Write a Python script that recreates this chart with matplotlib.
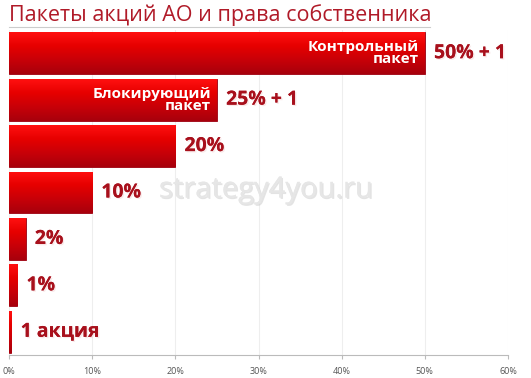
import matplotlib
matplotlib.use("Agg")
import matplotlib.pyplot as plt
import numpy as np
from matplotlib.colors import LinearSegmentedColormap
import matplotlib.patheffects as pe

plt.rcParams['font.family'] = ['Open Sans', 'DejaVu Sans']

categories = ["Контрольный пакет", "Блокирующий пакет", "20%", "10%", "2%", "1%", "1 акция"]
values = [50, 25, 20, 10, 2, 1, 0.3]
value_labels = ["50% + 1", "25% + 1", "20%", "10%", "2%", "1%", "1 акция"]
inner_labels = ["Контрольный\nпакет", "Блокирующий\nпакет", "", "", "", "", ""]
xticks = [0, 10, 20, 30, 40, 50, 60]
xticklabels = ["0%", "10%", "20%", "30%", "40%", "50%", "60%"]
title = "Пакеты акций АО и права собственника"

fig = plt.figure(figsize=(5.31, 3.78), dpi=100)
ax = fig.add_axes([9/531, 1 - 355/378, 499/531, 325/378])

n = len(values)
ypos = np.arange(n)
bh = 0.9
cmap = LinearSegmentedColormap.from_list("g", ["#ff1010", "#e60000", "#c80008", "#a8000c"])
grad = np.linspace(0, 1, 64).reshape(-1, 1)

bars = ax.barh(ypos, values, height=bh, color="#d40008", edgecolor="#9a0010",
               linewidth=0.6, zorder=2)
for b in bars:
    x0, y0, w, h = b.get_x(), b.get_y(), b.get_width(), b.get_height()
    im = ax.imshow(grad, cmap=cmap, aspect="auto", extent=(x0, x0 + w, y0 + h, y0),
                   zorder=3, interpolation="bicubic")
    im.set_clip_path(b)

shadow = [pe.withSimplePatchShadow(offset=(1, -1), shadow_rgbFace="#f0c8c8", alpha=0.4), pe.Normal()]
for i, (v, lab) in enumerate(zip(values, value_labels)):
    ax.text(v + 1.1, i, lab, va="center", ha="left", fontsize=14, fontweight="bold",
            color="#a8101c", zorder=5, path_effects=shadow)
    if inner_labels[i]:
        ax.text(v - 0.7, i, inner_labels[i], va="center", ha="right", fontsize=11,
                fontweight="bold", color="white", linespacing=0.8, zorder=5)

ax.set_xlim(0, 60)
ax.set_ylim(n - 0.5, -0.5)
ax.set_xticks(xticks)
ax.set_xticklabels(xticklabels, fontsize=6.5, color="#555555")
ax.set_yticks([])
ax.tick_params(axis="x", length=3, color="#bbbbbb", pad=6)
ax.grid(axis="x", color="#eeeeee", linewidth=0.8, zorder=0)
ax.set_axisbelow(True)
for s in ["top", "right", "left"]:
    ax.spines[s].set_visible(False)
ax.spines["bottom"].set_color("#bbbbbb")

fig.text(9/531, 1 - 15/378, title, fontsize=15.5, color="#b01a28", va="center", ha="left")
fig.add_artist(plt.Line2D([9/531, 430/531], [1 - 27/378, 1 - 27/378], color="#cccccc", lw=0.8))

ax.text(0.515, 1 - (190 - 30) / 325, "strategy4you.ru", transform=ax.transAxes,
        fontsize=21, color="#e6e6e6", ha="center", va="center", zorder=1,
        path_effects=[pe.withSimplePatchShadow(offset=(1, -1), shadow_rgbFace="#c8c8c8", alpha=0.5), pe.Normal()])

fig.savefig("out.png", dpi=100)
